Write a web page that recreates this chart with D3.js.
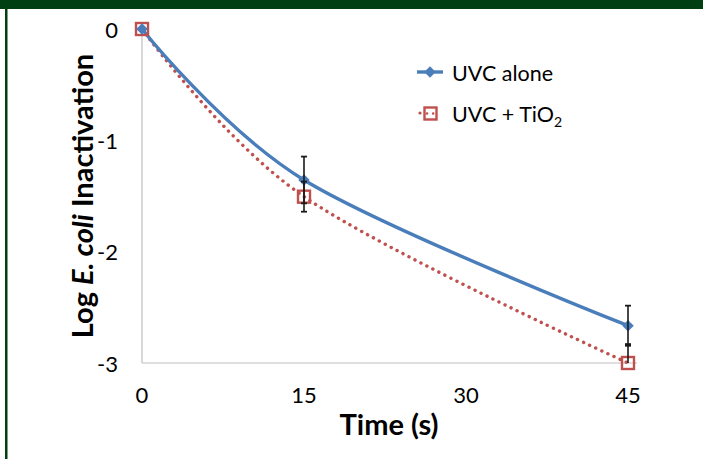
<!DOCTYPE html>
<html><head><meta charset="utf-8">
<script src="https://cdn.jsdelivr.net/npm/d3@7"></script>
<style>body{margin:0;background:#fff;}svg{display:block;}</style>
</head><body>
<svg id="c" width="703" height="459"></svg>
<script>
const xTicks = [0, 15, 30, 45];
const yTicks = [0, -1, -2, -3];
const seriesNames = ["UVC alone", "UVC + TiO2"];
const times = [0, 15, 45];
const uvcAlone = [0, -1.356, -2.665];
const uvcAloneErr = [0, 0.21, 0.18];
const uvcTiO2 = [0, -1.506, -3.0];
const uvcTiO2Err = [0, 0.135, 0.17];

const svg = d3.select("#c");
const font = "Lato, 'Open Sans', sans-serif";
const W = 703, H = 459;
// frame
svg.append("rect").attr("x",0).attr("y",0).attr("width",W).attr("height",9).attr("fill","#003f12");
svg.append("rect").attr("x",5).attr("y",0).attr("width",2.5).attr("height",H).attr("fill","#003f12");

const x = d3.scaleLinear().domain([0,45]).range([142,628]);
const y = d3.scaleLinear().domain([-3,0]).range([363,29]);

const g = svg.append("g");
// axes lines
g.append("line").attr("x1",x(0)).attr("x2",x(0)).attr("y1",y(0)).attr("y2",y(-3)).attr("stroke","#bfbfbf").attr("stroke-width",1.2);
g.append("line").attr("x1",x(0)).attr("x2",x(45)+9).attr("y1",y(-3)).attr("y2",y(-3)).attr("stroke","#bfbfbf").attr("stroke-width",1.2);

// tick labels
g.selectAll(".yt").data(yTicks).enter().append("text")
  .attr("x",118).attr("y",d=>y(d)+1).attr("dy","0.35em").attr("text-anchor","end")
  .attr("font-family",font).attr("font-size",22).attr("fill","#000").text(d=>d);
g.selectAll(".xt").data(xTicks).enter().append("text")
  .attr("x",d=>x(d)).attr("y",395).attr("dy","0.35em").attr("text-anchor","middle")
  .attr("font-family",font).attr("font-size",22).attr("fill","#000").text(d=>d);

// axis titles
g.append("text").attr("x",389).attr("y",425).attr("dy","0.35em").attr("text-anchor","middle")
  .attr("font-family",font).attr("font-size",29).attr("font-weight","bold").text("Time (s)");
const yt = g.append("text").attr("transform","translate(83,196) rotate(-90)").attr("dy","0.35em")
  .attr("text-anchor","middle").attr("font-family",font).attr("font-size",29).attr("font-weight","bold");
yt.append("tspan").text("Log ");
yt.append("tspan").attr("font-style","italic").text("E. coli");
yt.append("tspan").text(" Inactivation");

const blue = "#4a7ebb", red = "#c0504d";
const line = d3.line().x(d=>x(d[0])).y(d=>y(d[1])).curve(d3.curveCardinal.tension(0));
const dA = times.map((t,i)=>[t,uvcAlone[i]]);
const dT = times.map((t,i)=>[t,uvcTiO2[i]]);

g.append("path").attr("d",line(dT)).attr("fill","none").attr("stroke",red).attr("stroke-width",3.4)
  .attr("stroke-dasharray","0.1 6.6").attr("stroke-linecap","round");
g.append("path").attr("d",line(dA)).attr("fill","none").attr("stroke",blue).attr("stroke-width",3.4);

// markers
g.selectAll(".sq").data(dT).enter().append("rect")
  .attr("x",d=>x(d[0])-6).attr("y",d=>y(d[1])-6).attr("width",12).attr("height",12)
  .attr("fill","none").attr("stroke",red).attr("stroke-width",2.4);
const diamond = d3.symbol().type(d3.symbolDiamond2).size(85);
g.selectAll(".dm").data(dA).enter().append("path")
  .attr("transform",d=>`translate(${x(d[0])},${y(d[1])})`).attr("d",diamond).attr("fill",blue);

// error bars (clipped at plot area)
svg.append("clipPath").attr("id","pa").append("rect").attr("x",x(0)-10).attr("y",y(0)-10).attr("width",520).attr("height",y(-3)-y(0)+10);
const eb = svg.append("g").attr("clip-path","url(#pa)");
function errBars(vals, errs){
  times.forEach((t,i)=>{
    if(!errs[i]) return;
    const cx = x(t), y1 = y(vals[i]+errs[i]), y2 = y(vals[i]-errs[i]);
    eb.append("line").attr("x1",cx).attr("x2",cx).attr("y1",y1).attr("y2",y2).attr("stroke","#1a1a1a").attr("stroke-width",1.6);
    [y1,y2].forEach(yy=>eb.append("line").attr("x1",cx-3).attr("x2",cx+3).attr("y1",yy).attr("y2",yy).attr("stroke","#1a1a1a").attr("stroke-width",1.8));
  });
}
errBars(uvcTiO2, uvcTiO2Err);
errBars(uvcAlone, uvcAloneErr);

// legend
const lg = svg.append("g");
lg.append("line").attr("x1",417).attr("x2",443).attr("y1",72).attr("y2",72).attr("stroke",blue).attr("stroke-width",3.4);
lg.append("path").attr("transform","translate(430,72)").attr("d",diamond).attr("fill",blue);
lg.append("text").attr("x",452).attr("y",73).attr("dy","0.35em").attr("font-family",font).attr("font-size",21.5).text(seriesNames[0]);
lg.append("circle").attr("cx",420).attr("cy",113).attr("r",1.6).attr("fill",red);
lg.append("rect").attr("x",424.5).attr("y",107.5).attr("width",12).attr("height",12).attr("fill","none").attr("stroke",red).attr("stroke-width",2.4);
lg.append("line").attr("x1",427).attr("x2",434).attr("y1",113.5).attr("y2",113.5).attr("stroke",red).attr("stroke-width",2.5).attr("stroke-dasharray","0.1 6").attr("stroke-linecap","round");
const lt = lg.append("text").attr("x",452).attr("y",114).attr("dy","0.35em").attr("font-family",font).attr("font-size",21.5);
lt.append("tspan").text("UVC + TiO");
lt.append("tspan").attr("font-size",14).attr("dy","0.4em").text("2");
</script>
</body></html>
